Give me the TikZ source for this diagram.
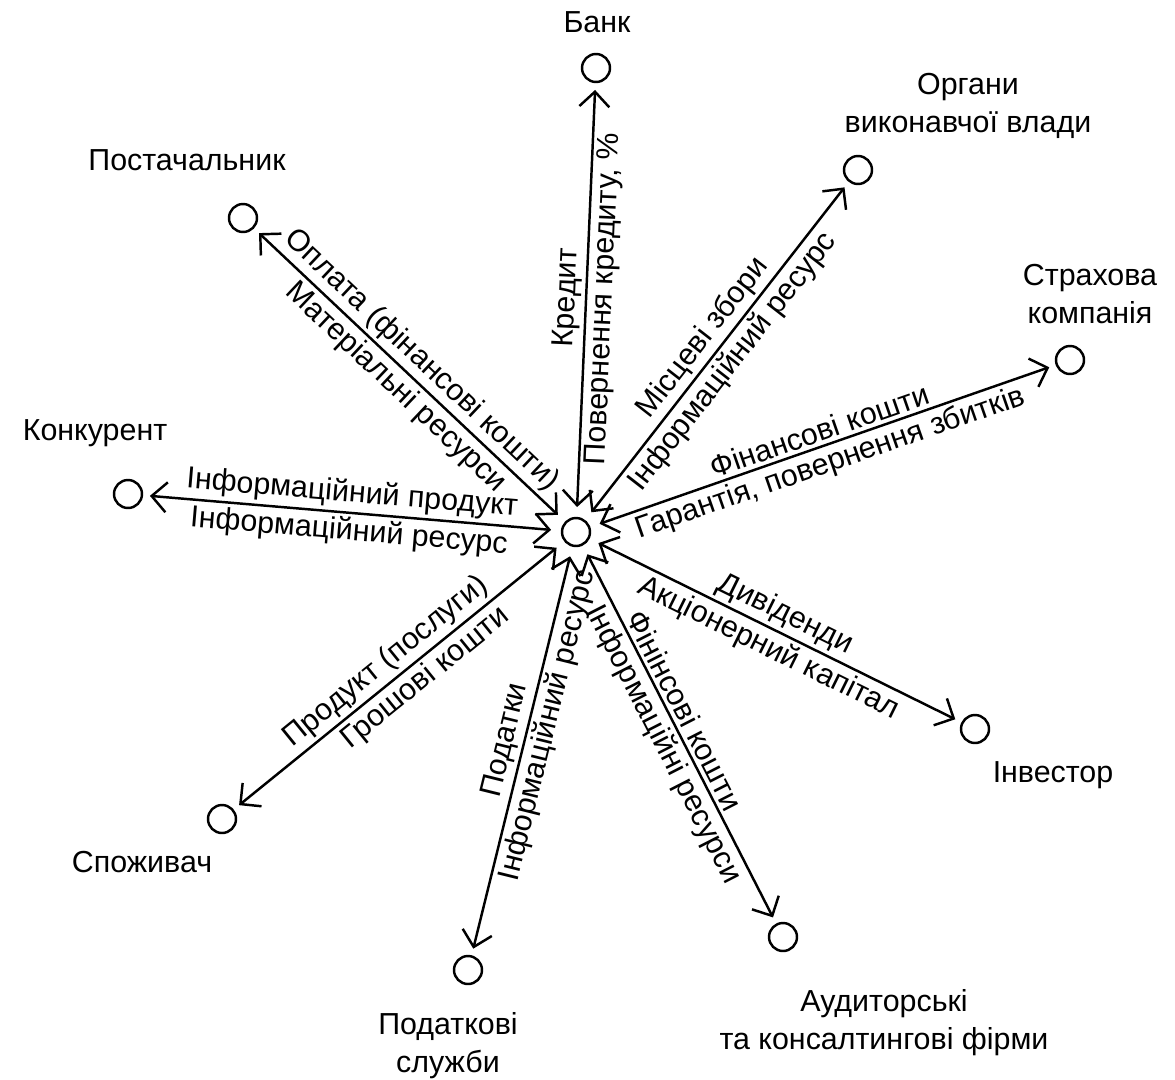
\documentclass[tikz,border=0pt]{standalone}
\usepackage{fontspec}
\setmainfont{Liberation Sans}
\usetikzlibrary{arrows.meta}

\begin{document}
\begin{tikzpicture}[line join=round,
  font=\fontsize{17.3}{21.5}\selectfont,
  party/.style={circle,draw,line width=1.4pt,minimum size=.56cm,inner sep=0pt,outer sep=.16cm},
  firm/.style={circle,draw,line width=1.4pt,minimum size=.56cm,inner sep=0pt,outer sep=.22cm},
  flow/.style={{Straight Barb[length=3mm,width=6mm]}-{Straight Barb[length=3mm,width=6mm]},line width=1.4pt},
  lbl/.style={align=center,inner sep=0pt},
  flowtext/.style={sloped,inner sep=2pt}]
\begin{scope}[x=.02cm,y=-.02cm]
  \path[use as bounding box] (0,0) rectangle (1175,1079);
  % підприємство
  \node[firm] (firm) at (576,532) {};
  % контрагенти
  \node[party] (bank) at (596,68) {};
  \node[party] (gov) at (858,170) {};
  \node[party] (insur) at (1070,360) {};
  \node[party] (invest) at (975,729) {};
  \node[party] (audit) at (783,937) {};
  \node[party] (tax) at (468,970) {};
  \node[party] (consum) at (222,819) {};
  \node[party] (compet) at (128,494) {};
  \node[party] (suppl) at (243,218) {};
  \node[lbl] (banktxt) at (597,22) {Банк};
  \node[lbl] (govtxt) at (968,106) {Органи\\виконавчої влади};
  \node[lbl] (insurtxt) at (1090,294) {Страхова\\компанія};
  \node[lbl] (investtxt) at (1053,775) {Інвестор};
  \node[lbl] (audittxt) at (884,1023) {Аудиторські\\та консалтингові фірми};
  \node[lbl] (taxtxt) at (448,1046) {Податкові\\служби};
  \node[lbl] (consumtxt) at (142,862) {Споживач};
  \node[lbl] (compettxt) at (95,433) {Конкурент};
  \node[lbl] (suppltxt) at (187,160) {Постачальник};
  % потоки
  \draw[flow] (firm) -- (bank)
    node[midway,above,flowtext] {Кредит}
    node[midway,below,flowtext] {Повернення кредиту, \%};
  \draw[flow] (firm) -- (gov)
    node[midway,above,flowtext] {Місцеві збори}
    node[midway,below,flowtext] {Інформаційний ресурс};
  \draw[flow] (firm) -- (insur)
    node[midway,above,flowtext] {Фінансові кошти}
    node[midway,below,flowtext] {Гарантія, повернення збитків};
  \draw[flow] (firm) -- (invest)
    node[midway,above,flowtext] {Дивіденди}
    node[midway,below,flowtext] {Акціонерний капітал};
  \draw[flow] (firm) -- (audit)
    node[pos=.45,above,flowtext] {Фінінсові кошти}
    node[midway,below,flowtext] {Інформаційні ресурси};
  \draw[flow] (firm) -- (tax)
    node[pos=.48,above,flowtext] {Податки}
    node[pos=.42,below,flowtext] {Інформаційний ресурс};
  \draw[flow] (firm) -- (consum)
    node[midway,above,flowtext] {Продукт (послуги)}
    node[pos=.45,below,flowtext] {Грошові кошти};
  \draw[flow] (firm) -- (compet)
    node[midway,above,flowtext] {Інформаційний продукт}
    node[midway,below,flowtext] {Інформаційний ресурс};
  \draw[flow] (firm) -- (suppl)
    node[midway,above,flowtext] {Оплата (фінансові кошти)}
    node[midway,below,flowtext] {Матеріальні ресурси};
\end{scope}
\end{tikzpicture}
\end{document}
